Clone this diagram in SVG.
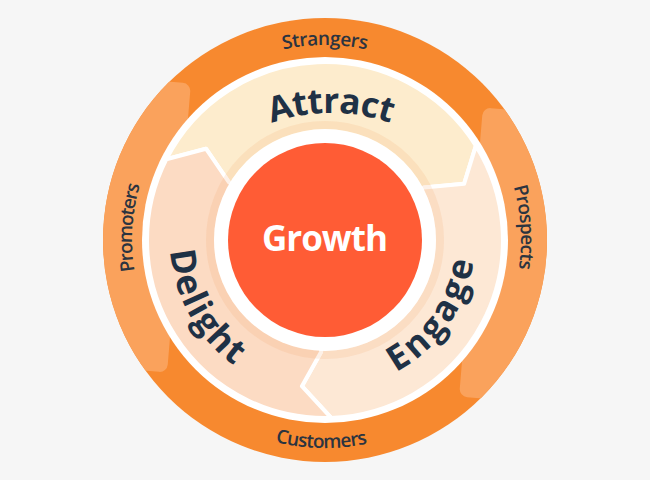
<svg xmlns="http://www.w3.org/2000/svg" width="650" height="480" viewBox="0 0 650 480">
  <defs>
    <style>
      .big { font-family: "Open Sans", "Liberation Sans", sans-serif; font-weight: 700; font-size: 35px; fill: #1f3145; }
      .small { font-family: "Open Sans", "Liberation Sans", sans-serif; font-weight: 600; font-size: 19px; fill: #2b3440; }
      .seg { stroke: #ffffff; stroke-width: 4; stroke-linejoin: round; }
    </style>
    <clipPath id="outerClip"><circle cx="325" cy="240" r="222"/></clipPath>
    <path id="pStrangers" d="M227.5,71.1 A195,195 0 0,1 422.5,71.1"/>
    <path id="pCustomers" d="M217.9,418.3 A208,208 0 0,0 425.8,421.9"/>
    <path id="pPromoters" d="M152,325.5 A193,193 0 0,1 164.4,132.9"/>
    <path id="pProspects" d="M488.1,131.3 A196,196 0 0,1 500.7,326.8"/>
    <path id="pAttract" d="M241,137.1 A180,180 0 0,1 421,137.1"/>
    <path id="pEngage" d="M376.3,381 A150,150 0 0,0 475,240"/>
    <path id="pDelight" d="M170.8,223.8 A155,155 0 0,0 257.1,379.3"/>
  </defs>

  <rect width="650" height="480" fill="#f6f6f6"/>

  <g id="outer-ring">
    <circle cx="325" cy="240" r="222" fill="#f7892f"/>
    <g clip-path="url(#outerClip)">
      <g transform="rotate(4.7 325 240)" fill="#faa25c">
        <rect x="60" y="95" width="118.5" height="290" rx="8"/>
        <rect x="471.5" y="95" width="120" height="290" rx="8"/>
      </g>
    </g>
    <circle cx="325" cy="240" r="183" fill="#ffffff"/>
  </g>

  <g id="stage-labels">
    <text class="small" id="label-strangers"><textPath href="#pStrangers" startOffset="50%" text-anchor="middle" textLength="84">Strangers</textPath></text>
    <text class="small" id="label-prospects"><textPath href="#pProspects" startOffset="50%" text-anchor="middle" textLength="83">Prospects</textPath></text>
    <text class="small" id="label-customers"><textPath href="#pCustomers" startOffset="50%" text-anchor="middle" textLength="93">Customers</textPath></text>
    <text class="small" id="label-promoters"><textPath href="#pPromoters" startOffset="50%" text-anchor="middle" textLength="87">Promoters</textPath></text>
  </g>

  <g id="node-attract">
    <path class="seg" fill="#fdeccd" d="M166.4,159.2 A178,178 0 0,1 475.9,145.7 L464.1,183.8 L423.9,187.4 L415.1,192.1 A102,102 0 0,0 237.6,187.5 L229.0,182.3 L206.0,148.7 Z"/>
  </g>
  <g id="node-engage">
    <path class="seg" fill="#fde8d5" d="M475.9,145.7 A178,178 0 0,1 331.2,417.9 L301.9,386.2 L321.1,351.9 L321.4,341.9 A102,102 0 0,0 415.1,192.1 L423.9,187.4 L464.1,183.8 Z"/>
  </g>
  <g id="node-delight">
    <path class="seg" fill="#fcdbc3" d="M331.2,417.9 A178,178 0 0,1 166.4,159.2 L206.0,148.7 L229.0,182.3 L237.6,187.5 A102,102 0 0,0 321.4,341.9 L321.1,351.9 L301.9,386.2 Z"/>
  </g>

  <circle cx="325" cy="240" r="115" fill="none" stroke="#ee9650" stroke-opacity="0.13" stroke-width="8"/>

  <g id="segment-labels">
    <text class="big"><textPath href="#pAttract" startOffset="50%" text-anchor="middle" textLength="121">Attract</textPath></text>
    <text class="big"><textPath href="#pEngage" startOffset="50%" text-anchor="middle" textLength="140">Engage</textPath></text>
    <text class="big"><textPath href="#pDelight" startOffset="50%" text-anchor="middle" textLength="135">Delight</textPath></text>
  </g>

  <g id="node-growth">
    <circle cx="325" cy="240" r="111" fill="#ffffff"/>
    <circle cx="325" cy="240" r="97" fill="#ff5c35"/>
    <text x="325" y="251" text-anchor="middle" font-family="Open Sans, Liberation Sans, sans-serif" font-weight="700" font-size="35" fill="#ffffff" textLength="126">Growth</text>
  </g>
</svg>
